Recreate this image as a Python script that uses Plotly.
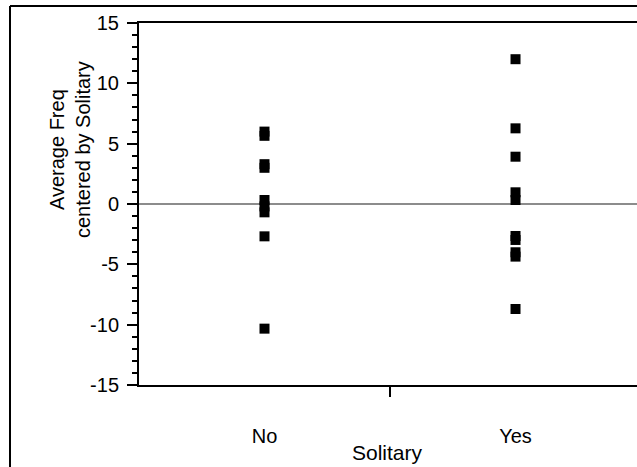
import plotly.graph_objects as go

categories = ["No", "Yes"]
values_no = [6.0, 5.65, 3.3, 3.0, 0.33, -0.2, -0.69, -2.68, -10.33]
values_yes = [12.0, 6.27, 3.92, 0.97, 0.33, -2.65, -2.98, -4.0, -4.36, -8.7]
y_ticks = [-15, -10, -5, 0, 5, 10, 15]
x_title = "Solitary"
y_title = ["Average Freq", "centered by Solitary"]

FONT = "Arial, Liberation Sans, sans-serif"

fig = go.Figure()
for i, vals in enumerate([values_no, values_yes]):
    fig.add_trace(go.Scatter(
        x=[i] * len(vals), y=vals, mode="markers",
        marker=dict(symbol="square", size=10, color="black", line=dict(width=0)),
        showlegend=False, hoverinfo="y",
    ))

fig.update_layout(
    width=637, height=467,
    margin=dict(l=139, r=0, t=23, b=82),
    paper_bgcolor="white", plot_bgcolor="white",
    font=dict(family=FONT, size=20, color="black"),
    xaxis=dict(
        range=[-0.5, 1.484], tickvals=[0, 1], ticktext=categories,
        ticks="", showgrid=False, zeroline=False,
        showline=True, linecolor="black", linewidth=2, mirror=True,
        ticklabelstandoff=32, tickfont=dict(family=FONT, size=20),
        minor=dict(tickvals=[0.5], ticks="outside", ticklen=10, tickwidth=2,
                   tickcolor="black", showgrid=False),
    ),
    yaxis=dict(
        range=[-15, 15], tickvals=y_ticks, ticktext=[str(v) for v in y_ticks],
        ticks="outside", ticklen=10,
        tickwidth=2, tickcolor="black", showgrid=False,
        showline=True, linecolor="black", linewidth=2,
        zeroline=True, zerolinecolor="#8c8c8c", zerolinewidth=2,
        ticklabelstandoff=4, tickfont=dict(family=FONT, size=20),
        minor=dict(dtick=1, ticks="outside", ticklen=5, tickwidth=2,
                   tickcolor="black", showgrid=False),
    ),
    shapes=[
        dict(type="line", xref="paper", yref="paper",
             x0=(10 - 139) / 498, x1=1.05, y0=1 + (23 - 6) / 362, y1=1 + (23 - 6) / 362,
             line=dict(color="black", width=2)),
        dict(type="line", xref="paper", yref="paper",
             x0=(10 - 139) / 498, x1=(10 - 139) / 498, y0=1 + (23 - 6) / 362, y1=-0.3,
             line=dict(color="black", width=2)),
    ],
    annotations=[
        dict(text=y_title[0] + "<br>" + y_title[1], textangle=-90,
             xref="paper", yref="paper",
             x=(70 - 139) / 498, y=(385 - 150) / 362,
             xanchor="center", yanchor="middle", showarrow=False,
             font=dict(family=FONT, size=20, color="black")),
        dict(text=x_title, xref="paper", yref="paper",
             x=(387 - 139) / 498, y=(385 - 452) / 362,
             xanchor="center", yanchor="middle", showarrow=False,
             font=dict(family=FONT, size=21, color="black")),
    ],
)

fig.write_html("out.html")
